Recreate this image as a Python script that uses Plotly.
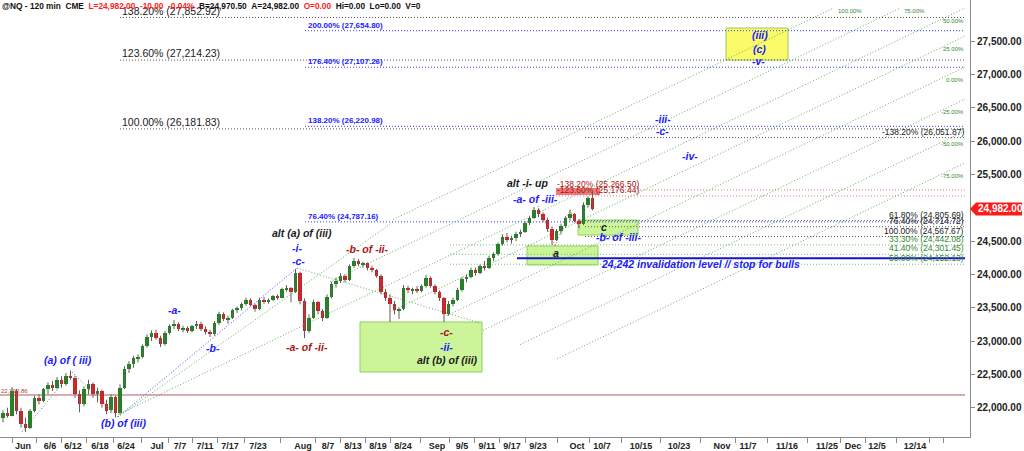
import plotly.graph_objects as go

# ---------------- data ----------------
opens = [21850, 21920, 21880, 22250, 21950, 21760, 21700, 21950, 22150, 22100,
         22280, 22340, 22300, 22420, 22350, 22480, 22450, 22200, 22050, 22280,
         22350, 22200, 22250, 22050, 21960, 22160, 21920, 22300, 22580, 22650,
         22740, 22760, 22920, 23060, 23120, 23050, 22950, 23120, 23220, 23260,
         23180, 23200, 23150, 23220, 23260, 23180, 23140, 23100, 23270, 23400,
         23330, 23350, 23460, 23500, 23550, 23620, 23540, 23480, 23620, 23600,
         23620, 23670, 23650, 23780, 23800, 23740, 24020, 23600, 23150, 23350,
         23580, 23450, 23350, 23660, 23850, 23900, 23980, 23920, 24120, 24200,
         24150, 24170, 24090, 24060, 23980, 23740, 23640, 23550, 23460, 23480,
         23800, 23760, 23780, 23750, 23820, 23950, 23830, 23730, 23640, 23400,
         23560, 23620, 23760, 23930, 23960, 24060, 24020, 24120, 24100, 24250,
         24300, 24450, 24560, 24520, 24540, 24610, 24640, 24770, 24850, 24960,
         24900, 24820, 24680, 24520, 24650, 24720, 24840, 24900, 24800, 24760,
         25040, 25140]
highs = [21960, 22000, 22310, 22280, 22000, 21850, 21980, 22180, 22200, 22300,
         22380, 22400, 22460, 22470, 22520, 22560, 22480, 22260, 22320, 22420,
         22380, 22300, 22270, 22120, 22200, 22180, 22350, 22620, 22700, 22780,
         22800, 22950, 23100, 23160, 23170, 23080, 23150, 23250, 23315, 23280,
         23230, 23220, 23240, 23300, 23290, 23220, 23170, 23300, 23440, 23430,
         23380, 23480, 23520, 23580, 23650, 23640, 23560, 23650, 23660, 23640,
         23690, 23700, 23800, 23840, 23810, 24080, 24040, 23640, 23400, 23620,
         23600, 23480, 23700, 23890, 23950, 24020, 24000, 24150, 24245, 24230,
         24190, 24180, 24130, 24080, 24000, 23780, 23700, 23600, 23500, 23840,
         23830, 23800, 23820, 23850, 23990, 23970, 23850, 23760, 23660, 23600,
         23650, 23800, 23960, 24000, 24100, 24100, 24150, 24200, 24280, 24330,
         24480, 24600, 24620, 24580, 24640, 24670, 24800, 24880, 25010, 24990,
         24930, 24850, 24720, 24680, 24760, 24870, 24970, 24920, 24830, 25080,
         25170, 25230]
lows = [21780, 21850, 21870, 21900, 21700, 21635, 21680, 21930, 22050, 22080,
        22200, 22250, 22280, 22300, 22330, 22420, 22150, 21930, 22020, 22200,
        22150, 22080, 22000, 21900, 21920, 21855, 21900, 22280, 22520, 22600,
        22680, 22740, 22900, 23000, 23020, 22910, 22930, 23100, 23180, 23150,
        23130, 23120, 23130, 23180, 23150, 23100, 23060, 23080, 23240, 23300,
        23260, 23330, 23420, 23460, 23530, 23520, 23440, 23460, 23560, 23560,
        23600, 23620, 23640, 23740, 23580, 23720, 23550, 23045, 23120, 23330,
        23400, 23300, 23330, 23640, 23800, 23870, 23880, 23900, 24100, 24120,
        24100, 24060, 24030, 23950, 23700, 23600, 23285, 23400, 23330, 23460,
        23720, 23700, 23720, 23730, 23800, 23800, 23700, 23600, 23285, 23380,
        23520, 23600, 23740, 23880, 23940, 23980, 24000, 24060, 24080, 24200,
        24280, 24430, 24480, 24460, 24500, 24560, 24620, 24740, 24830, 24860,
        24780, 24640, 24440, 24500, 24600, 24700, 24800, 24780, 24695, 24740,
        25000, 24960]
closes = [21920, 21880, 22250, 21950, 21760, 21700, 21950, 22150, 22100, 22280,
          22340, 22300, 22420, 22350, 22480, 22450, 22200, 22050, 22280, 22350,
          22200, 22250, 22050, 21950, 22160, 21920, 22300, 22580, 22650, 22740,
          22760, 22920, 23060, 23120, 23050, 22950, 23120, 23220, 23260, 23180,
          23200, 23150, 23220, 23260, 23180, 23140, 23100, 23270, 23400, 23330,
          23350, 23460, 23500, 23550, 23620, 23540, 23480, 23620, 23600, 23620,
          23670, 23650, 23780, 23800, 23740, 24020, 23600, 23150, 23350, 23580,
          23450, 23350, 23660, 23850, 23900, 23980, 23920, 24120, 24200, 24150,
          24170, 24090, 24060, 23980, 23740, 23640, 23550, 23460, 23480, 23800,
          23760, 23780, 23750, 23820, 23950, 23830, 23730, 23640, 23400, 23560,
          23620, 23760, 23930, 23960, 24060, 24020, 24120, 24100, 24250, 24300,
          24450, 24560, 24520, 24540, 24610, 24640, 24770, 24850, 24960, 24900,
          24820, 24680, 24520, 24650, 24720, 24840, 24900, 24800, 24760, 25040,
          25140, 24982]

date_labels = ["Jun", "6/6", "6/12", "6/18", "6/24", "Jul", "7/7", "7/11", "7/17", "7/23",
               "Aug", "8/7", "8/13", "8/19", "8/24", "Sep", "9/5", "9/11", "9/17", "9/23",
               "Oct", "10/7", "10/15", "10/23", "Nov", "11/7", "11/16", "11/25", "Dec",
               "12/5", "12/14"]
price_ticks = [22000, 22500, 23000, 23500, 24000, 24500, 25500, 26000, 26500, 27000, 27500]

fib_left_pct = ["138.20%", "123.60%", "100.00%"]
fib_left_lvl = [27852.92, 27214.23, 26181.83]
fib_blue_pct = ["200.00%", "176.40%", "138.20%", "76.40%"]
fib_blue_lvl = [27654.80, 27107.26, 26220.98, 24787.16]
fib_right_pct = ["-138.20%", "61.80%", "76.40%", "100.00%"]
fib_right_lvl = [26051.87, 24805.69, 24714.72, 24567.67]
fib_green_pct = ["33.30%", "41.40%", "50.00%"]
fib_green_lvl = [24442.08, 24301.45, 24152.13]
fib_red_pct = ["-138.20%", "-123.60%"]
fib_red_lvl = [25266.50, 25176.44]
channel_pct = ["100.00%", "75.00%", "50.00%", "25.00%", "0.00%", "-25.00%", "-50.00%", "-75.00%"]
support_lvl = 22190.86
invalidation_lvl = 24242
last_price = 24982.00
net_change = -10.00
pct_change = -0.04
bid = 24970.50
ask = 24982.00

wave_texts = ["(a) of ( iii)", "(b) of (iii)", "-a-", "-b-", "alt (a) of (iii)", "-i-", "-c-",
              "-a- of -ii-", "-b- of -ii-", "-c-", "-ii-", "alt (b) of (iii)", "alt -i- up",
              "-a- of -iii-", "a", "c", "-b- of -iii-", "-iii-", "-c-", "-iv-",
              "(iii)", "(c)", "-v-"]
wave_kinds = ["b", "b", "b", "b", "k", "b", "b", "r", "r", "r", "b", "k", "k",
              "b", "k", "k", "b", "b", "b", "b", "b", "b", "b"]
invalidation_text = "24,242 invalidation level // stop for bulls"

# ---------------- layout helpers (pixel -> axis units) ----------------
PLOT_W, PLOT_H = 970, 437


def X(px):
    return (px - 3) / 4.5


def Y(py):
    return 22000 + (407.7 - py) * 15


XR = [X(0), X(PLOT_W)]
YR = [Y(PLOT_H), Y(0)]

FONT = "Arial, Liberation Sans, sans-serif"
BLUE = "#2020ff"
DRED = "#a81414"
BLACK = "#1a1a1a"
GREEN_T = "#2f8a2f"
CH_GREEN = "#5fb05f"
DOT = "1px,2px"

fig = go.Figure()

# wicks
wx, wy = [], []
for i, (h, l) in enumerate(zip(highs, lows)):
    wx += [i, i, None]
    wy += [l, h, None]
fig.add_trace(go.Scatter(x=wx, y=wy, mode="lines", line=dict(color="#5f5f5f", width=1),
                         hoverinfo="skip", showlegend=False))
# bodies
n = len(closes)
body_base = [min(o, c) for o, c in zip(opens, closes)]
body_h = [max(abs(c - o), 8) for o, c in zip(opens, closes)]
body_col = ["#168a16" if c >= o else "#e8141a" for o, c in zip(opens, closes)]
fig.add_trace(go.Bar(x=list(range(n)), y=body_h, base=body_base, width=0.76,
                     marker=dict(color=body_col, line=dict(width=0)),
                     showlegend=False, hoverinfo="skip"))


def seg(x0, y0, x1, y1, color, width=1, dash=DOT, layer="below"):
    fig.add_shape(type="line", xref="x", yref="y", x0=x0, y0=y0, x1=x1, y1=y1,
                  line=dict(color=color, width=width, dash=dash), layer=layer)


def label(text, x, y, color, size, xanchor="left", yanchor="bottom", bold=False,
          italic=False, yshift=0, bg=None):
    t = text
    if italic:
        t = "<i>" + t + "</i>"
    if bold:
        t = "<b>" + t + "</b>"
    fig.add_annotation(x=x, y=y, xref="x", yref="y", text=t, showarrow=False,
                       xanchor=xanchor, yanchor=yanchor, yshift=yshift,
                       font=dict(family=FONT, size=size, color=color),
                       borderpad=0, bgcolor=bg)


def box(px0, py0, px1, py1, fill, border):
    fig.add_shape(type="rect", xref="x", yref="y", x0=X(px0), x1=X(px1), y0=Y(py1), y1=Y(py0),
                  fillcolor=fill, line=dict(color=border, width=1), layer="below")


# boxes
box(360, 322, 482, 372, "#ccf59a", "#8fcf5a")
box(527, 246, 598, 265, "#ccf59a", "#8fcf5a")
box(578, 220, 638, 235, "#ccf59a", "#8fcf5a")
box(726, 28, 788, 60, "#fbfb6a", "#9ccc5c")

# horizontal fib levels
for p, lv in zip(fib_left_pct, fib_left_lvl):
    seg(X(120), lv, X(965), lv, "#555555")
    label(f"{p} ({lv:,.2f})", X(121), lv, BLACK, 10.5, yshift=0)
for p, lv in zip(fib_blue_pct, fib_blue_lvl):
    seg(X(305), lv, X(965), lv, "#3a3aff")
    label(f"{p} ({lv:,.2f})", X(307), lv, BLUE, 8, bold=True)
for p, lv in zip(fib_right_pct, fib_right_lvl):
    seg(X(585), lv, X(965), lv, "#555555")
    label(f"{p} ({lv:,.2f})", X(965), lv, BLACK, 8.5, xanchor="right")
for p, lv in zip(fib_green_pct, fib_green_lvl):
    seg(X(450), lv, X(965), lv, "#6fbf6f")
    label(f"{p} ({lv:,.2f})", X(965), lv, GREEN_T, 8.5, xanchor="right")

# red levels with highlight
fig.add_shape(type="rect", xref="x", yref="y", x0=X(556), x1=X(600), y0=Y(195), y1=Y(188),
              fillcolor="#f07a7a", line=dict(width=0), layer="below")
for p, lv in zip(fib_red_pct, fib_red_lvl):
    seg(X(556), lv, X(965), lv, "#d98080")
    label(f"{p} ({lv:,.2f})", X(556), lv, DRED, 8.5)

# support line
seg(X(0), support_lvl, X(965), support_lvl, "#b85a5a", width=1, dash="solid")
label(f"{support_lvl:,.2f}", X(0), support_lvl, "#b04040", 6)

# invalidation line
seg(X(517), invalidation_lvl, X(965), invalidation_lvl, "#1515c8", width=2, dash="solid", layer="above")
label(invalidation_text, X(700), Y(264), BLUE, 10.5, xanchor="center", yanchor="middle",
      bold=True, italic=True)

# channel lines (parallel)
SLOPE = 0.48
channel_geom = [(393, -55), (330, -23), (118, 8), (390, 36), (447, 67), (483, 99), (520, 131), (557, 163)]
for p, (sx, y965) in zip(channel_pct, channel_geom):
    sy = y965 + SLOPE * (965 - sx)
    if y965 < 8:
        ex, ey = 965 - (8 - y965) / SLOPE, 8
        seg(X(sx), Y(sy), X(ex), Y(ey), CH_GREEN)
        label(p, X(ex + 3), Y(11), GREEN_T, 6, yanchor="middle")
    else:
        seg(X(sx), Y(sy), X(965), Y(y965), CH_GREEN)
        label(p, X(965), Y(y965 + 13), GREEN_T, 6, xanchor="right", yanchor="middle")

# wave connector lines
seg(X(118), Y(417), X(297), Y(268), "#4a4aff")
seg(X(118), Y(417), X(393), Y(222), CH_GREEN)
seg(X(297), Y(268), X(480), Y(323), CH_GREEN)
seg(X(22), Y(432), X(72), Y(372), "#777777")
seg(X(72), Y(372), X(118), Y(417), "#777777")
seg(X(538), Y(206), X(555), Y(246), "#d06060")
seg(X(555), Y(246), X(570), Y(210), "#d06060")
seg(X(570), Y(210), X(580), Y(229), "#d06060")

# wave labels
wave_pos = [(68, 360), (123, 423), (174, 310), (213, 348), (302, 233), (297, 248), (298, 261),
            (307, 347), (367, 249), (446, 332), (446, 347), (447, 360), (527, 183),
            (535, 199), (556, 253), (604, 227), (618, 237), (663, 119), (662, 131), (690, 156),
            (760, 35), (759, 49), (758, 61)]
kind_col = {"b": BLUE, "k": BLACK, "r": DRED}
for t, k, (px, py) in zip(wave_texts, wave_kinds, wave_pos):
    label(t, X(px), Y(py), kind_col[k], 10.5, xanchor="center", yanchor="middle",
          bold=True, italic=True)

# header
sp = "\u00a0\u00a0"
red = "<span style='color:#ff1a1a'>{}</span>"
header = ("<b>@NQ - 120 min" + sp + "CME" + sp +
          red.format(f"L={last_price:,.2f}" + sp + f"{net_change:.2f}" + sp + f"{pct_change:.2f}%") + sp +
          f"B={bid:,.2f}" + sp + f"A={ask:,.2f}" + sp + red.format("O=0.00") + sp +
          "Hi=0.00" + sp + "Lo=0.00" + sp + "V=0</b>")
fig.add_annotation(x=0.001, y=1.0, xref="paper", yref="paper", xanchor="left", yanchor="top",
                   text=header, showarrow=False, font=dict(family=FONT, size=8.3, color="#111"),
                   borderpad=0)

# last price tag (paper coordinates computed from the axis range)
def py_paper(v):
    return (v - YR[0]) / (YR[1] - YR[0])


tag_y = py_paper(last_price)
hh = 6.5 / PLOT_H
x_a = 1.0
x_b = 976 / PLOT_W
x_c = 1022 / PLOT_W
fig.add_shape(type="path", xref="paper", yref="paper",
              path=f"M {x_a} {tag_y} L {x_b} {tag_y + hh} L {x_c} {tag_y + hh} L {x_c} {tag_y - hh} L {x_b} {tag_y - hh} Z",
              fillcolor="#ff1a1a", line=dict(width=0), layer="above")
fig.add_annotation(x=x_b, y=tag_y, xref="paper", yref="paper", xanchor="left", yanchor="middle",
                   text=f"<b>{last_price:,.2f}</b>", showarrow=False,
                   font=dict(family=FONT, size=10, color="white"), xshift=0)

# axes
label_px = [23, 50, 73, 100, 126, 157, 180, 205, 230, 258, 303, 328, 353, 378, 403, 437, 462,
            487, 512, 538, 577, 602, 641, 679, 722, 748, 787, 827, 853, 877, 915]
tick_pos = [X(p) for p in label_px]
minor_px = [12.7] + [(a + b) / 2 for a, b in zip(label_px[:-1], label_px[1:])] + [929, 943]
minor_pos = [X(p) for p in minor_px]

fig.update_layout(
    width=1024, height=451,
    margin=dict(l=0, r=54, t=0, b=14),
    paper_bgcolor="white", plot_bgcolor="white",
    showlegend=False, barmode="overlay", bargap=0,
    xaxis=dict(range=XR, tickmode="array", tickvals=tick_pos, ticktext=date_labels,
               ticks="", showgrid=False, zeroline=False, showline=True,
               linecolor="#8a8a8a", linewidth=1, automargin=False,
               tickfont=dict(family=FONT, size=9, color="#222", weight="bold"),
               minor=dict(tickmode="array", tickvals=minor_pos, ticks="outside", ticklen=5,
                          tickcolor="#8a8a8a", showgrid=False),
               fixedrange=True),
    yaxis=dict(range=YR, side="right", tickmode="array", tickvals=price_ticks,
               tickformat=",.2f", ticks="outside", ticklen=4, tickcolor="#8a8a8a",
               showgrid=False, zeroline=False, showline=True, linecolor="#8a8a8a",
               automargin=False,
               tickfont=dict(family=FONT, size=10, color="#222", weight="bold"),
               fixedrange=True),
)

fig.write_html("out.html", config={"displayModeBar": False},
               post_script="document.body.style.margin='0';document.body.style.padding='0';")
